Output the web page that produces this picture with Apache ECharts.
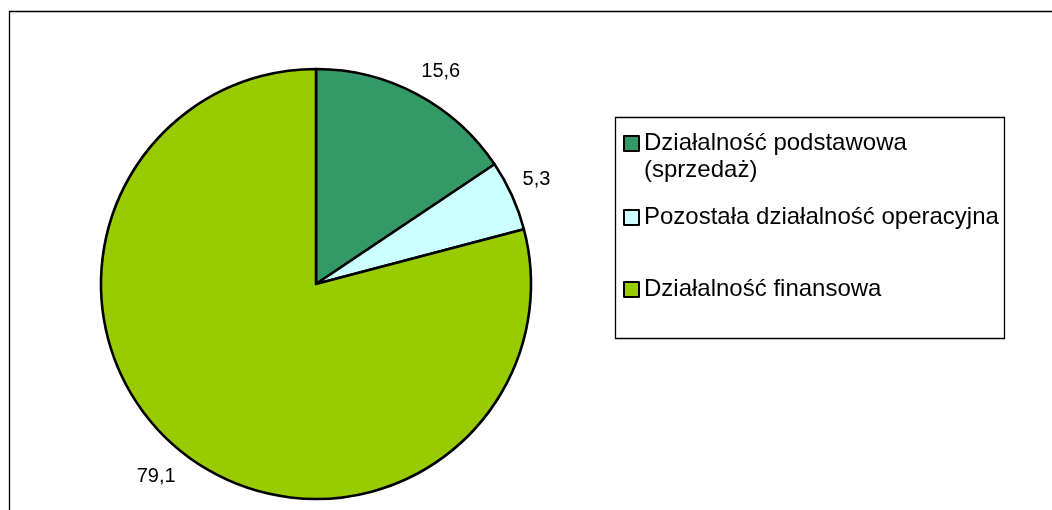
<!DOCTYPE html>
<html lang="pl">
<head>
    <meta charset="UTF-8">
    <title>Struktura</title>
    <script type="text/javascript" src="https://cdn.jsdelivr.net/npm/echarts@6/dist/echarts.min.js"></script>
    <style>
        html, body { margin: 0; padding: 0; background: #fff; }
        #pie { width: 1052px; height: 510px; }
    </style>
</head>
<body>
<div id="pie"></div>
<script>
    var categories = ['Działalność podstawowa (sprzedaż)', 'Pozostała działalność operacyjna', 'Działalność finansowa'];
    var values = [15.6, 5.3, 79.1];
    var colors = ['#339966', '#ccffff', '#99cc00'];

    var font = 'Liberation Sans, Arial, sans-serif';
    var cx = 316, cy = 284, radius = 215;
    var mychart = echarts.init(document.getElementById('pie'));

    var pieData = [];
    var total = 0;
    for (var i = 0; i < categories.length; i++) {
        pieData.push({name: categories[i], value: values[i], itemStyle: {color: colors[i]}});
        total += values[i];
    }

    // mid angle of every slice, clockwise from 12 o'clock
    var midAngles = [];
    var acc = 0;
    for (var k = 0; k < values.length; k++) {
        midAngles.push(Math.PI / 2 - (acc + values[k] / 2) / total * Math.PI * 2);
        acc += values[k];
    }

    // one legend per entry, Excel spaces them unevenly
    var legendTops = [103, 204, 276];
    var legends = [];
    for (var j = 0; j < categories.length; j++) {
        legends.push({
            data: [categories[j]],
            left: 623,
            top: legendTops[j],
            padding: 0,
            icon: 'rect',
            itemWidth: 15,
            itemHeight: 15,
            itemStyle: {borderColor: '#000', borderWidth: 2},
            selectedMode: false,
            textStyle: {fontFamily: font, fontSize: 24, color: '#000', lineHeight: 27},
            formatter: j === 0 ? function (name) {
                // blank first line keeps the square level with the first row
                return '\n' + name.replace(' (', '\n(');
            } : '{name}'
        });
    }

    var option = {
        animation: false,
        backgroundColor: '#fff',
        graphic: [
            {
                type: 'rect',
                shape: {x: 9.5, y: 11.5, width: 1100, height: 600},
                style: {fill: 'none', stroke: '#000', lineWidth: 1.3},
                z: -1
            },
            {
                type: 'rect',
                shape: {x: 615.5, y: 117.5, width: 389, height: 221},
                style: {fill: '#fff', stroke: '#000', lineWidth: 1.3},
                z: -1
            }
        ],
        legend: legends,
        series: [{
            type: 'pie',
            center: [cx, cy],
            radius: radius,
            startAngle: 90,
            clockwise: true,
            data: pieData,
            itemStyle: {borderColor: '#000', borderWidth: 2.6},
            emphasis: {disabled: true},
            label: {
                show: true,
                position: 'outside',
                fontFamily: font,
                fontSize: 20,
                color: '#000',
                formatter: function (p) {
                    return String(p.value).replace('.', ',');
                }
            },
            labelLine: {show: false},
            // Excel style: nearest corner of the label box sits just outside the rim
            labelLayout: function (p) {
                var a = midAngles[p.dataIndex];
                var dx = Math.cos(a), dy = -Math.sin(a);
                var r = radius + 15;
                return {
                    x: cx + r * dx - (dx > 0 ? 3 : 0),
                    y: cy + r * dy,
                    align: dx < 0 ? 'right' : 'left',
                    verticalAlign: dy < 0 ? 'bottom' : 'top'
                };
            }
        }]
    };
    mychart.setOption(option);
</script>
</body>
</html>
